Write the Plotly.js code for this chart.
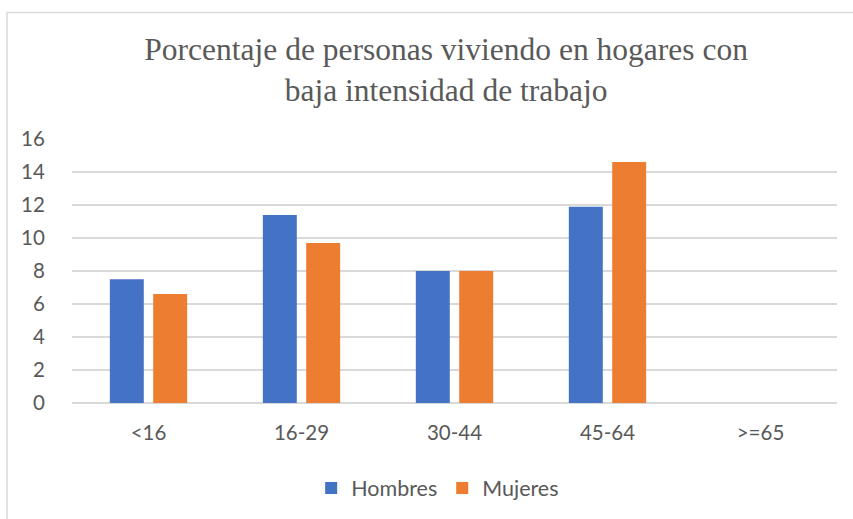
<!DOCTYPE html>
<html>
<head>
<meta charset="utf-8">
<script src="https://cdn.plot.ly/plotly-3.0.1.min.js"></script>
<style>html,body{margin:0;padding:0;background:#fff;}#chart{width:853px;height:519px;}</style>
</head>
<body>
<div id="chart"></div>
<script>
const categories = ["<16", "16-29", "30-44", "45-64", ">=65"];
const hombres = [7.5, 11.4, 8.0, 11.9, 0];
const mujeres = [6.6, 9.7, 8.0, 14.6, 0];
const yTicks = [0, 2, 4, 6, 8, 10, 12, 14, 16];
const titleText = "Porcentaje de personas viviendo en hogares con<br>baja intensidad de trabajo";

const textColor = "#595959";
const gridColor = "#D9D9D9";
const sansFont = "Lato, 'Open Sans', sans-serif";

const data = [
  {type: "bar", name: "Hombres", x: categories, y: hombres,
   marker: {color: "#4472C4", line: {width: 0}}, hoverinfo: "none"},
  {type: "bar", name: "Mujeres", x: categories, y: mujeres,
   marker: {color: "#ED7D31", line: {width: 0}}, hoverinfo: "none"}
];

const layout = {
  width: 853, height: 519,
  margin: {l: 72, r: 16, t: 139, b: 115},
  paper_bgcolor: "#fff", plot_bgcolor: "#fff",
  barmode: "group", bargap: 0.433, bargroupgap: 0.217,
  title: {
    text: titleText,
    font: {family: "'Liberation Serif', 'Times New Roman', serif", size: 31.5, color: textColor},
    x: 0.523, xanchor: "center", xref: "container",
    y: 0.884, yanchor: "top", yref: "container"
  },
  xaxis: {
    type: "category", showgrid: false, showline: false, zeroline: false,
    ticks: "outside", ticklen: 11, tickcolor: "rgba(0,0,0,0)",
    tickfont: {family: sansFont, size: 20.5, color: textColor}, fixedrange: true
  },
  yaxis: {
    range: [0, 16], tickvals: yTicks, ticktext: yTicks.map(String),
    showgrid: true, gridcolor: gridColor, gridwidth: 1.5,
    zeroline: true, zerolinecolor: gridColor, zerolinewidth: 1.5,
    showline: false, ticks: "outside", ticklen: 22, tickcolor: "rgba(0,0,0,0)",
    tickfont: {family: sansFont, size: 20.5, color: textColor}, fixedrange: true
  },
  showlegend: true,
  legend: {
    orientation: "h", x: 0.478, xanchor: "center", y: -0.317, yanchor: "middle",
    font: {family: sansFont, size: 21.5, color: textColor},
    itemclick: false, itemdoubleclick: false, traceorder: "normal", itemwidth: 30
  },
  shapes: [{
    type: "rect", xref: "paper", yref: "paper",
    x0: -0.085, x1: 1.03, y0: -0.5, y1: 1.479,
    line: {color: gridColor, width: 1.5}, fillcolor: "rgba(0,0,0,0)", layer: "below"
  }]
};

Plotly.newPlot("chart", data, layout, {displayModeBar: false, staticPlot: true});
</script>
</body>
</html>
